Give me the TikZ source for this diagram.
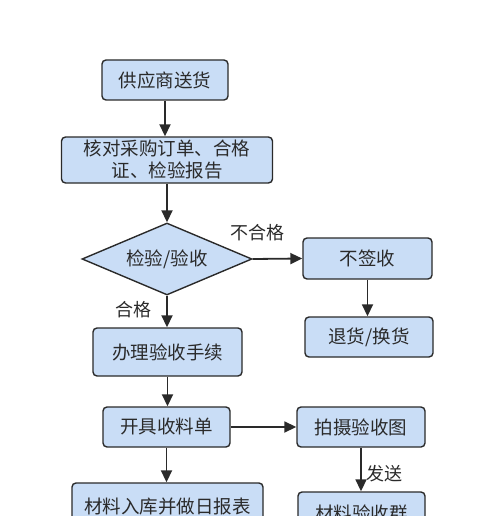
\documentclass[tikz,border=0pt]{standalone}
\usepackage{fontspec}
\setmainfont{Noto Sans CJK SC}
\usetikzlibrary{shapes.geometric,arrows.meta}
\definecolor{boxfill}{HTML}{C9DDF6}
\definecolor{ink}{HTML}{2A2A2A}
\tikzset{
  box/.style={draw=ink, fill=boxfill, line width=1.4pt, rounded corners=4pt, inner sep=0pt, text=ink, font=\fontsize{18.5}{22}\selectfont, align=center},
  decide/.style={draw=ink, fill=boxfill, line width=1.4pt, diamond, aspect=2.36, inner sep=0pt, minimum width=170pt, minimum height=72pt, text=ink, font=\fontsize{18.5}{22}\selectfont},
  lbl/.style={text=ink, font=\fontsize{18}{20}\selectfont, inner sep=0pt},
  arr/.style={draw=ink, line width=1.8pt, -{Triangle[length=12pt,width=11pt]}}
}
\begin{document}
\begin{tikzpicture}[x=1pt,y=-1pt]
\useasboundingbox (0,0) rectangle (500,516);
\clip (0,0) rectangle (500,516);
\node[box, minimum width=126pt, minimum height=40pt] (b1) at (165,80) {供应商送货};
\node[box, minimum width=211pt, minimum height=46pt] (b2) at (167,160) {核对采购订单、合格\\证、检验报告};
\node[decide] (d) at (167,259) {检验/验收};
\node[box, minimum width=129pt, minimum height=41pt] (s1) at (367.5,258.5) {不签收};
\node[box, minimum width=128pt, minimum height=40pt] (s2) at (369,337) {退货/换货};
\node[box, minimum width=149pt, minimum height=48pt] (b3) at (167.5,352) {办理验收手续};
\node[box, minimum width=127pt, minimum height=40pt] (b4) at (166.5,427) {开具收料单};
\node[box, minimum width=128pt, minimum height=40pt] (p) at (361,427) {拍摄验收图};
\node[box, minimum width=191pt, minimum height=48pt] (b5) at (167.5,507) {材料入库并做日报表};
\node[box, minimum width=127pt, minimum height=42pt] (g) at (361.5,513) {材料验收群};
\node[lbl] (l1) at (257,233) {不合格};
\node[lbl] (l2) at (133,310) {合格};
\node[lbl] (l3) at (384,474) {发送};
\draw[arr] (b1.south) -- (b1.south |- b2.north);
\draw[arr] (b2.south) -- (b2.south |- d.north);
\draw[arr] (d.east) -- (s1.west);
\draw[arr] (s1.south) -- (s1.south |- s2.north);
\draw[arr] (d.south) -- (d.south |- b3.north);
\draw[arr] (b3.south) -- (b3.south |- b4.north);
\draw[arr] (b4.east) -- (p.west);
\draw[arr] (p.south) -- (p.south |- g.north);
\draw[arr] (b4.south) -- (b4.south |- b5.north);
\end{tikzpicture}
\end{document}
